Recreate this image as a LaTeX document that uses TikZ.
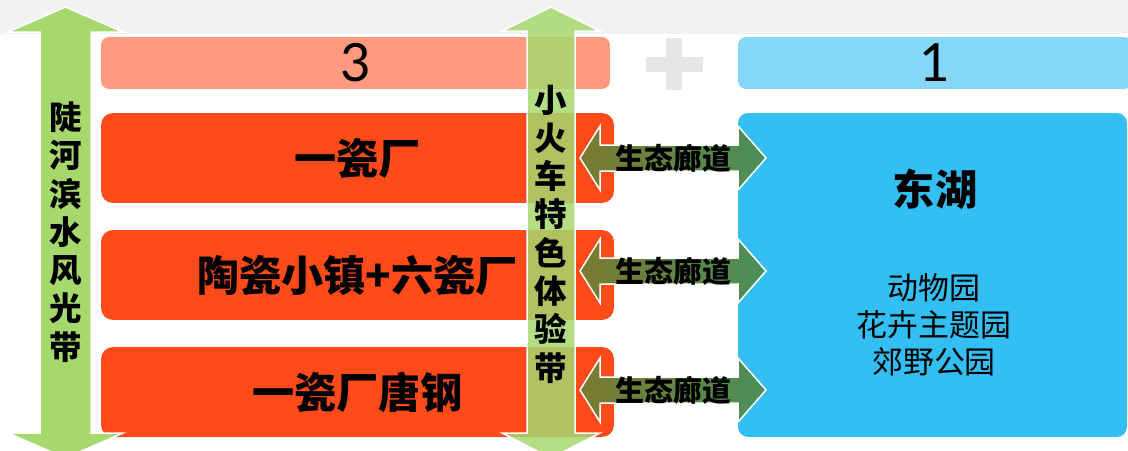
\documentclass[tikz,border=0pt]{standalone}
\usepackage{fontspec}
\newfontfamily\cjk{Noto Sans CJK SC}
\newfontfamily\digitfont{Lato}
\usetikzlibrary{positioning}
\definecolor{topgray}{HTML}{F2F2F2}
\definecolor{salmon}{HTML}{FF9980}
\definecolor{skypale}{HTML}{84D7F8}
\definecolor{kiln}{HTML}{FF4A1A}
\definecolor{lake}{HTML}{33BFF3}
\definecolor{reed}{HTML}{A6D86E}
\definecolor{plusgray}{HTML}{E6E6E6}
\definecolor{olive}{HTML}{7A7A2E}
\definecolor{moss}{HTML}{4A8F5A}
\tikzset{
  hdr/.style={rounded corners=0.16cm,minimum height=1.04cm,inner sep=0pt,
    font=\digitfont\fontsize{30}{34}\selectfont},
  kilnbox/.style={fill=kiln,rounded corners=0.24cm,minimum width=10.26cm,minimum height=1.8cm,
    inner sep=0pt,font=\cjk\bfseries\fontsize{24}{28}\selectfont},
  vtext/.style={align=center,inner sep=0pt,font=\cjk\bfseries\fontsize{18.5}{21.8}\selectfont},
  corridor/.style={draw=white,line width=0.03cm,left color=olive,right color=moss},
}
\begin{document}
\begin{tikzpicture}[x=0.02cm,y=-0.02cm]
\clip (0,0) rectangle (1128,450);
\fill[topgray] (0,0) rectangle (1128,34);
% headers
\node[hdr,fill=salmon,minimum width=10.18cm] (n3) at (355.5,63) {3};
\node[hdr,fill=skypale,minimum width=7.88cm] (n1) at (935,63) {1};
\fill[plusgray] (646,57) rectangle (703,72);
\fill[plusgray] (666,38) rectangle (682,90);
% boxes
\node[kilnbox] (c1) at (357.5,158) {一瓷厂};
\node[kilnbox] (c2) at (357.5,275) {陶瓷小镇+六瓷厂};
\node[kilnbox] (c3) at (357.5,392) {一瓷厂唐钢};
\node[fill=lake,rounded corners=0.2cm,minimum width=7.78cm,minimum height=6.48cm] (lake) at (932.5,275) {};
\node[font=\cjk\bfseries\fontsize{24}{28}\selectfont] (dh) at (935,189) {东湖};
\node[align=center,font=\cjk\fontsize{17.6}{21}\selectfont] (parks) at (934,325) {动物园\\花卉主题园\\郊野公园};
% bands
\draw[white,line width=0.03cm,fill=reed] (65.5,7) -- (123,32) -- (91,32) -- (91,433) -- (123,433)
  -- (65.5,458) -- (8,433) -- (40,433) -- (40,32) -- (8,32) -- cycle;
\node[vtext] (riverside) at (65.5,232) {陡\\河\\滨\\水\\风\\光\\带};
\draw[white,line width=0.03cm,fill=reed,fill opacity=0.85] (551,7) -- (600,31) -- (575,31) -- (575,433)
  -- (600,433) -- (551,458) -- (502,433) -- (527,433) -- (527,31) -- (502,31) -- cycle;
\node[vtext] (train) at (551,234) {小\\火\\车\\特\\色\\体\\验\\带};
% corridors
\foreach \y in {158,271,390} {
  \draw[corridor] (580,\y) -- (600,\y-32) -- (600,\y-13) -- (738,\y-13) -- (738,\y-32) -- (766,\y)
    -- (738,\y+32) -- (738,\y+13) -- (600,\y+13) -- (600,\y+32) -- cycle;
  \node[font=\cjk\bfseries\fontsize{16.5}{18}\selectfont,inner sep=0pt] (way\y) at (673,\y) {生态廊道};
}
\end{tikzpicture}
\end{document}
